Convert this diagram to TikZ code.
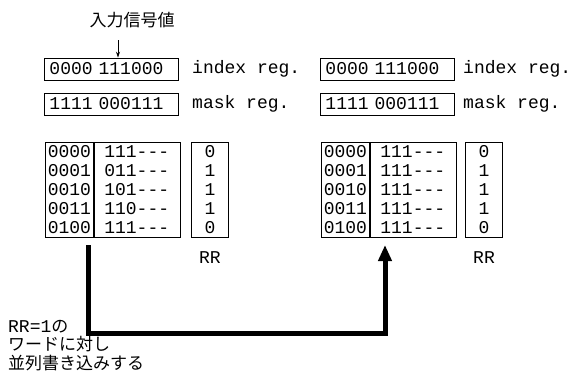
\documentclass[tikz,border=0pt]{standalone}
\usepackage{fontspec}
\setmonofont{Liberation Mono}
\newfontfamily\cjk{Noto Sans CJK JP}
\usetikzlibrary{arrows.meta}
\tikzset{
  reg/.style={draw, line width=0.9pt, minimum height=22pt, text width=124pt, inner xsep=5pt, inner ysep=0pt, align=left, font=\ttfamily\fontsize{18}{19}\selectfont},
  lbl/.style={anchor=west, inner sep=0pt, font=\ttfamily\fontsize{18}{19}\selectfont},
  idxcol/.style={draw, line width=0.9pt, minimum width=48pt, minimum height=95pt, inner sep=0pt, align=center, font=\ttfamily\fontsize{18}{19}\selectfont},
  datcol/.style={draw, line width=0.9pt, minimum height=95pt, text width=66pt, inner xsep=10pt, inner ysep=0pt, align=left, font=\ttfamily\fontsize{18}{19}\selectfont},
  rrcol/.style={draw, line width=0.9pt, minimum width=37pt, minimum height=95pt, inner sep=0pt, align=center, font=\ttfamily\fontsize{18}{19}\selectfont},
  jp/.style={inner sep=0pt, font=\cjk\fontsize{17}{19}\selectfont},
  bigarrow/.style={line width=5pt, -{Triangle[length=16pt,width=13pt]}},
}
\begin{document}
\begin{tikzpicture}[x=1pt,y=-1pt]
\useasboundingbox (0,0) rectangle (574,376);
% title
\node[jp] (title) at (132,20) {入力信号値};
% left registers
\node[reg, anchor=west] (idxL) at (44,69) {0000 111000};
\node[lbl] (idxLl) at (192,69) {index reg.};
\node[reg, anchor=west] (mskL) at (44,104) {1111 000111};
\node[lbl] (mskLl) at (192,104) {mask reg.};
\coordinate (a1) at (118,40);
\draw[line width=0.8pt, -{Stealth[length=6pt,width=4pt]}] (a1) -- (a1 |- idxL.north);
% right registers
\node[reg, anchor=west] (idxR) at (320,69) {0000 111000};
\node[lbl] (idxRl) at (463,69) {index reg.};
\node[reg, anchor=west] (mskR) at (320,104) {1111 000111};
\node[lbl] (mskRl) at (463,104) {mask reg.};
% left table
\node[idxcol, anchor=north west] (tLa) at (45,142) {0000\\0001\\0010\\0011\\0100};
\node[datcol, anchor=north west] (tLb) at (tLa.north east) {111---\\011---\\101---\\110---\\111---};
\node[rrcol, anchor=north west] (rrL) at (191,142) {0\\1\\1\\1\\0};
\node[lbl, anchor=center] (rrLl) at (210,258) {RR};
% right table
\node[idxcol, anchor=north west] (tRa) at (321,142) {0000\\0001\\0010\\0011\\0100};
\node[datcol, anchor=north west] (tRb) at (tRa.north east) {111---\\111---\\111---\\111---\\111---};
\node[rrcol, anchor=north west] (rrR) at (465,142) {0\\1\\1\\1\\0};
\node[lbl, anchor=center] (rrRl) at (484,258) {RR};
% connector
\coordinate (s) at (88,245);
\coordinate (c1) at (88,333);
\coordinate (c2) at (385,333);
\coordinate (t) at (385,245);
\draw[bigarrow] (s) -- (c1) -- (c2) -- (t);
% bottom note
\node[anchor=north west, inner sep=0pt, align=left, font=\cjk\fontsize{17}{18.5}\selectfont] (note) at (8,320)
  {{\ttfamily\fontsize{18}{18.5}\selectfont RR=1}の\\ワードに対し\\並列書き込みする};
\end{tikzpicture}
\end{document}
